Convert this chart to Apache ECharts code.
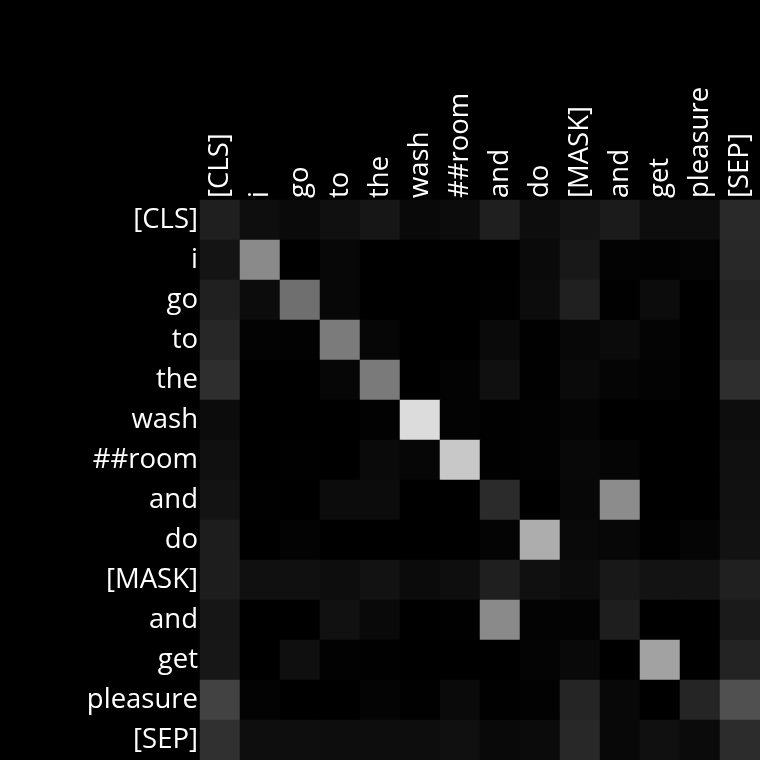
<!DOCTYPE html>
<html><head><meta charset="utf-8">
<script src="https://cdn.jsdelivr.net/npm/echarts@6/dist/echarts.min.js"></script>
<style>html,body{margin:0;padding:0;background:#000;}#c{width:760px;height:760px;}</style>
</head><body><div id="c"></div>
<script>
const tokens = ['[CLS]','i','go','to','the','wash','##room','and','do','[MASK]','and','get','pleasure','[SEP]'];
// gray intensity (0-255) of each cell, row = query token, col = key token
const row0  = [31,14,10,16,22,9,12,31,13,20,27,13,13,41];
const row1  = [20,138,0,7,0,0,0,0,10,24,3,2,4,40];
const row2  = [32,12,111,7,0,0,0,1,12,32,1,12,0,36];
const row3  = [39,3,2,123,6,0,0,10,1,7,11,4,0,39];
const row4  = [46,0,0,6,122,0,3,16,1,10,5,3,0,46];
const row5  = [12,0,0,0,2,220,3,1,2,5,0,0,0,13];
const row6  = [16,0,1,0,10,6,200,1,2,8,5,0,0,16];
const row7  = [19,1,0,12,12,0,0,43,0,7,140,0,0,17];
const row8  = [29,0,3,0,0,0,0,4,173,9,7,1,5,18];
const row9  = [29,16,16,13,18,11,14,31,16,12,24,19,19,32];
const row10 = [22,0,0,17,9,0,1,138,3,3,30,0,0,26];
const row11 = [23,0,15,2,1,0,0,0,4,9,0,162,0,35];
const row12 = [66,3,0,0,4,1,10,1,2,37,8,0,37,80];
const row13 = [48,14,14,13,13,13,16,9,11,40,8,16,11,44];
const rows = [row0,row1,row2,row3,row4,row5,row6,row7,row8,row9,row10,row11,row12,row13];

const data = [];
rows.forEach((r, yi) => r.forEach((v, xi) => data.push([xi, yi, v])));

const font = 'Open Sans';
const chart = echarts.init(document.getElementById('c'));
chart.setOption({
  backgroundColor: '#000000',
  animation: false,
  grid: { left: 200, top: 200, right: 0, bottom: 0 },
  xAxis: {
    type: 'category', position: 'top', data: tokens,
    axisLine: { show: false }, axisTick: { show: false }, splitArea: { show: false },
    axisLabel: { rotate: -90, interval: 0, color: '#ffffff', fontSize: 27.5, fontFamily: font, margin: 2 }
  },
  yAxis: {
    type: 'category', inverse: true, data: tokens,
    axisLine: { show: false }, axisTick: { show: false }, splitArea: { show: false },
    axisLabel: { interval: 0, color: '#ffffff', fontSize: 27.5, fontFamily: font, margin: 2, padding: [4, 0, 0, 0] }
  },
  visualMap: { show: false, min: 0, max: 255, dimension: 2, inRange: { color: ['#000000', '#ffffff'] } },
  series: [{ type: 'heatmap', data: data, itemStyle: { borderWidth: 0 }, emphasis: { disabled: true } }]
});
</script></body></html>
